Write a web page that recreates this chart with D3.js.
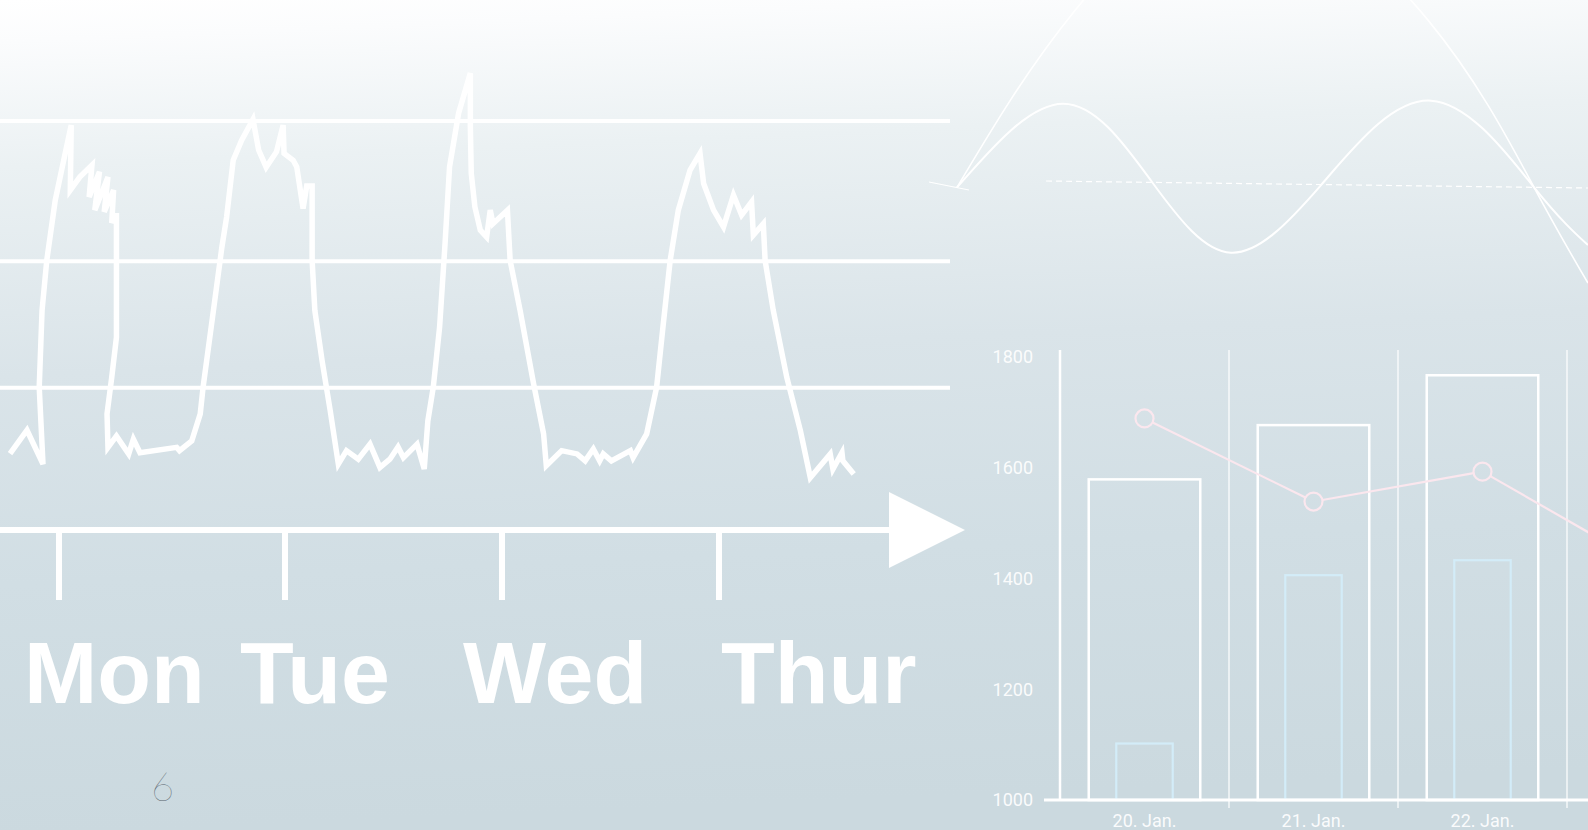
<!DOCTYPE html>
<html>
<head>
<meta charset="utf-8">
<script src="https://cdn.jsdelivr.net/npm/d3@7"></script>
<style>
    html, body { margin: 0; padding: 0; overflow: hidden; background: #dfe8ec; }
    svg { display: block; }
</style>
</head>
<body>
<svg id="chart" width="1588" height="830"></svg>
<script>
// === DATA ===

// Weekly load curve: time in hours from Monday 00:00, load in % of peak
const LOAD_HOURS = [
    -5.2, -3.4, -1.7, -2.1, -1.8, -1.3, -0.4, 0.5, 1.3, 1.2, 2.2, 3.5, 3.2, 4.3, 3.8, 5.2, 4.8, 5.8, 5.6, 6.1,
    6.1, 5.6, 5.1, 5.2, 6.1, 7.4, 7.9, 8.6, 12.5, 12.8, 14.1, 15.0, 15.3, 16.4, 17.3, 17.8, 18.5, 19.4, 20.6,
    21.2, 22.0, 23.1, 23.8, 23.9, 24.9, 25.3, 26.0, 26.4, 27.0, 27.0, 27.3, 28.1, 29.0, 29.9, 30.8, 32.1, 33.4,
    34.5, 35.6, 36.5, 37.1, 38.6, 39.4, 39.8, 40.4, 41.1, 41.7, 42.2, 43.2, 44.5, 44.5, 44.6, 45.0, 45.6, 46.3,
    46.7, 47.0, 48.6, 48.9, 50.0, 51.5, 52.6, 52.9, 54.6, 56.3, 57.2, 58.1, 58.8, 59.2, 60.1, 62.2, 62.5, 64.0,
    65.1, 65.8, 66.6, 67.5, 68.8, 69.9, 70.3, 71.4, 72.5, 73.6, 74.5, 75.6, 75.8, 76.9, 77.1, 78.0, 79.5, 81.0,
    82.1, 84.3, 84.6, 85.6, 85.7, 86.9
];
const LOAD_VALUES = [
    18.7, 24.4, 16.1, 34.9, 53.7, 65.9, 80.6, 90.4, 99.0, 83.1, 86.3, 89.2, 81.4, 87.6, 78.2, 86.3, 77.8, 83.1, 75.1, 77.5,
    47.1, 37.3, 28.4, 20.2, 23.0, 18.6, 22.2, 18.9, 20.2, 19.4, 21.8, 28.4, 34.9, 53.7, 69.2, 76.5, 90.4, 95.3, 100.4,
    92.9, 88.7, 92.5, 99.0, 92.1, 90.4, 88.8, 78.6, 84.1, 84.1, 65.9, 53.7, 41.4, 29.2, 16.1, 19.4, 17.3, 21.0,
    15.3, 17.3, 20.3, 17.7, 21.0, 14.9, 26.7, 34.9, 49.6, 70.0, 88.8, 101.9, 111.7, 98.6, 87.2, 79.0, 73.3, 71.6,
    78.2, 74.9, 78.2, 65.9, 53.7, 35.7, 23.5, 15.7, 19.4, 18.6, 16.9, 19.8, 16.9, 18.6, 16.9, 19.4, 17.7, 23.5,
    34.9, 49.6, 65.9, 78.2, 88.0, 92.1, 84.7, 78.2, 74.1, 81.9, 77.0, 80.2, 72.1, 74.9, 65.9, 53.7, 37.3, 24.3,
    12.8, 18.6, 14.9, 18.9, 16.9, 13.7
];
const LOAD_GRID = [100, 65.7, 34.8];
const DAY_TICKS = [0, 24, 48, 72];
const DAY_LABELS = ['Mon', 'Tue', 'Wed', 'Thur'];

// Decorative waves: phase in degrees, amplitude in units
const WAVE_SMALL_PHASE = [0, 99.2, 182.5, 256.4, 340.7, 443.6, 540, 590.5];
const WAVE_SMALL_AMP   = [-0.07, 1.03, 0, -0.93, -0.04, 1.07, -0.07, -0.83];
const WAVE_LARGE_PHASE = [0, 110, 269.5, 440.8, 540, 590.5];
const WAVE_LARGE_AMP   = [-0.07, 2.25, 3.75, 2.13, -0.07, -1.33];
const WAVE_MID_PHASE   = [83.3, 590.5];
const WAVE_MID_AMP     = [0.013, -0.079];
const WAVE_MARK_PHASE  = [-26.2, 11.2];
const WAVE_MARK_AMP    = [0, -0.105];

// Bar chart
const DATES = ['20. Jan.', '21. Jan.', '22. Jan.', '23. Jan.'];
const TOTAL = [1579, 1677, 1767, null];
const PART  = [1102, 1406, 1433, null];
const RATE  = [1689, 1539, 1593, 1418];
const Y_TICKS = [1000, 1200, 1400, 1600, 1800];

const PAGE_NUMBER = '6';

// === LAYOUT ===

const W = 1588, H = 830;
const DAY_LABEL_X = [24, 240, 463, 721];
const ARROW = { base: 889, tip: 965, half: 38 };
const TICK_BOTTOM = 600;
const R = 9;

const svg = d3.select('#chart');

// Background gradient
const defs = svg.append('defs');
const grad = defs.append('linearGradient')
    .attr('id', 'bg').attr('x1', 0).attr('y1', 0).attr('x2', 0.08).attr('y2', 1);
[
    [0, '#ffffff'], [0.05, '#fbfcfd'], [0.2, '#ebf1f3'],
    [0.45, '#dae4e9'], [0.7, '#d1dee4'], [1, '#cbd9df']
].forEach(([o, c]) => grad.append('stop').attr('offset', o).attr('stop-color', c));

svg.append('rect').attr('width', W).attr('height', H).attr('fill', 'url(#bg)');

// === LEFT: WEEKLY LOAD CURVE ===

const xDay = d3.scaleLinear().domain(DAY_TICKS).range([59, 285, 502, 719]);
const yLoad = d3.scaleLinear().domain([0, 100]).range([530, 121]);

const left = svg.append('g');

left.selectAll('.grid')
    .data(LOAD_GRID)
    .join('line')
    .attr('x1', 0).attr('x2', 950)
    .attr('y1', d => yLoad(d)).attr('y2', d => yLoad(d))
    .attr('stroke', '#fff').attr('stroke-width', 4);

const loadData = LOAD_HOURS.map((h, i) => ({ h, v: LOAD_VALUES[i] }));

left.append('path')
    .datum(loadData)
    .attr('d', d3.line()
        .x(d => xDay(d.h))
        .y(d => yLoad(d.v)))
    .attr('fill', 'none')
    .attr('stroke', '#fff')
    .attr('stroke-width', 5.5)
    .attr('stroke-linejoin', 'miter')
    .attr('stroke-miterlimit', 4);

// time axis with arrow
const axisY = yLoad(0);
left.append('line')
    .attr('x1', 0).attr('x2', ARROW.base + 2)
    .attr('y1', axisY).attr('y2', axisY)
    .attr('stroke', '#fff').attr('stroke-width', 6);

left.append('path')
    .attr('d', `M${ARROW.base},${axisY - ARROW.half}L${ARROW.tip},${axisY}L${ARROW.base},${axisY + ARROW.half}Z`)
    .attr('fill', '#fff');

left.selectAll('.tick')
    .data(DAY_TICKS)
    .join('line')
    .attr('x1', d => xDay(d)).attr('x2', d => xDay(d))
    .attr('y1', axisY).attr('y2', TICK_BOTTOM)
    .attr('stroke', '#fff').attr('stroke-width', 6);

left.selectAll('.day-label')
    .data(DAY_LABELS)
    .join('text')
    .attr('x', (d, i) => DAY_LABEL_X[i])
    .attr('y', 703)
    .attr('font-family', '"Liberation Sans", Arial, sans-serif')
    .attr('font-weight', 'bold')
    .attr('font-size', 88)
    .attr('fill', '#fff')
    .text(d => d);

svg.append('text')
    .attr('x', 151).attr('y', 801)
    .attr('font-family', 'Lato, sans-serif')
    .attr('font-weight', 100)
    .attr('font-size', 40)
    .attr('fill', '#55606a')
    .text(PAGE_NUMBER);

// === TOP RIGHT: WAVES ===

const xPhase = d3.scaleLinear().domain([0, 540]).range([957, 1534]);
const yAmp = d3.scaleLinear().domain([-1, 1]).range([258, 106]);

const waveLine = d3.line()
    .x(d => xPhase(d[0]))
    .y(d => yAmp(d[1]))
    .curve(d3.curveNatural);

const waves = svg.append('g').attr('fill', 'none').attr('stroke', '#fff');

waves.append('path')
    .attr('d', waveLine(WAVE_LARGE_PHASE.map((p, i) => [p, WAVE_LARGE_AMP[i]])))
    .attr('stroke-width', 1.6);

waves.append('path')
    .attr('d', waveLine(WAVE_SMALL_PHASE.map((p, i) => [p, WAVE_SMALL_AMP[i]])))
    .attr('stroke-width', 2);

waves.append('path')
    .attr('d', d3.line().x(d => xPhase(d[0])).y(d => yAmp(d[1]))(
        WAVE_MID_PHASE.map((p, i) => [p, WAVE_MID_AMP[i]])))
    .attr('stroke-width', 1.2)
    .attr('stroke-dasharray', '6 4');

waves.append('path')
    .attr('d', d3.line().x(d => xPhase(d[0])).y(d => yAmp(d[1]))(
        WAVE_MARK_PHASE.map((p, i) => [p, WAVE_MARK_AMP[i]])))
    .attr('stroke-width', 1.2);

// === BOTTOM RIGHT: BAR CHART ===

const xDate = d3.scaleBand().domain(DATES).range([1060, 1736]).padding(0);
const bw = xDate.bandwidth();
const yVal = d3.scaleLinear().domain([1000, 1800]).range([800, 357]);
const cx = d => xDate(d) + bw / 2;

const bars = svg.append('g');

// vertical separators
bars.selectAll('.sep')
    .data(DATES)
    .join('line')
    .attr('x1', d => xDate(d) + bw).attr('x2', d => xDate(d) + bw)
    .attr('y1', 350).attr('y2', 808)
    .attr('stroke', '#fff').attr('stroke-width', 1.2);

const barData = DATES.map((d, i) => ({ d, total: TOTAL[i], part: PART[i], rate: RATE[i] }));

bars.selectAll('.total')
    .data(barData.filter(b => b.total != null))
    .join('rect')
    .attr('x', b => cx(b.d) - bw * 0.33)
    .attr('width', bw * 0.66)
    .attr('y', b => yVal(b.total))
    .attr('height', b => yVal(1000) - yVal(b.total))
    .attr('fill', 'none')
    .attr('stroke', '#fff').attr('stroke-width', 2.5);

bars.selectAll('.part')
    .data(barData.filter(b => b.part != null))
    .join('rect')
    .attr('x', b => cx(b.d) - bw * 0.167)
    .attr('width', bw * 0.334)
    .attr('y', b => yVal(b.part))
    .attr('height', b => yVal(1000) - yVal(b.part))
    .attr('fill', 'none')
    .attr('stroke', '#d3ecf8').attr('stroke-width', 2.2);

// axes
bars.append('line')
    .attr('x1', 1060).attr('x2', 1060)
    .attr('y1', 350).attr('y2', yVal(1000))
    .attr('stroke', '#fff').attr('stroke-width', 2.5);
bars.append('line')
    .attr('x1', 1044).attr('x2', W)
    .attr('y1', yVal(1000)).attr('y2', yVal(1000))
    .attr('stroke', '#fff').attr('stroke-width', 2.8);

const yAxis = bars.append('g')
    .attr('transform', 'translate(1060,0)')
    .call(d3.axisLeft(yVal).tickValues(Y_TICKS).tickFormat(d3.format('d')).tickSize(0).tickPadding(27));
yAxis.select('.domain').remove();
yAxis.selectAll('text')
    .attr('font-family', 'Roboto, sans-serif')
    .attr('font-size', 18)
    .attr('fill', '#fff')
    .attr('fill-opacity', 0.92);

// only dates whose label fits inside the picture get a label
bars.selectAll('.date-label')
    .data(DATES.filter(d => cx(d) + 40 < W))
    .join('text')
    .attr('x', d => cx(d))
    .attr('y', 827)
    .attr('text-anchor', 'middle')
    .attr('font-family', 'Roboto, sans-serif')
    .attr('font-size', 18)
    .attr('fill', '#fff')
    .attr('fill-opacity', 0.92)
    .text(d => d);

// rate line with hollow markers
const pts = barData.map(b => [cx(b.d), yVal(b.rate)]);
const segs = d3.pairs(pts).map(([a, b]) => {
    const dx = b[0] - a[0], dy = b[1] - a[1];
    const len = Math.hypot(dx, dy);
    const ux = dx / len, uy = dy / len;
    return [[a[0] + ux * R, a[1] + uy * R], [b[0] - ux * R, b[1] - uy * R]];
});

bars.selectAll('.seg')
    .data(segs)
    .join('line')
    .attr('x1', s => s[0][0]).attr('y1', s => s[0][1])
    .attr('x2', s => s[1][0]).attr('y2', s => s[1][1])
    .attr('stroke', '#fbe7ee').attr('stroke-width', 2.2);

bars.selectAll('.dot')
    .data(pts)
    .join('circle')
    .attr('cx', p => p[0]).attr('cy', p => p[1])
    .attr('r', R)
    .attr('fill', 'none')
    .attr('stroke', '#fbe7ee').attr('stroke-width', 2.2);
</script>
</body>
</html>
